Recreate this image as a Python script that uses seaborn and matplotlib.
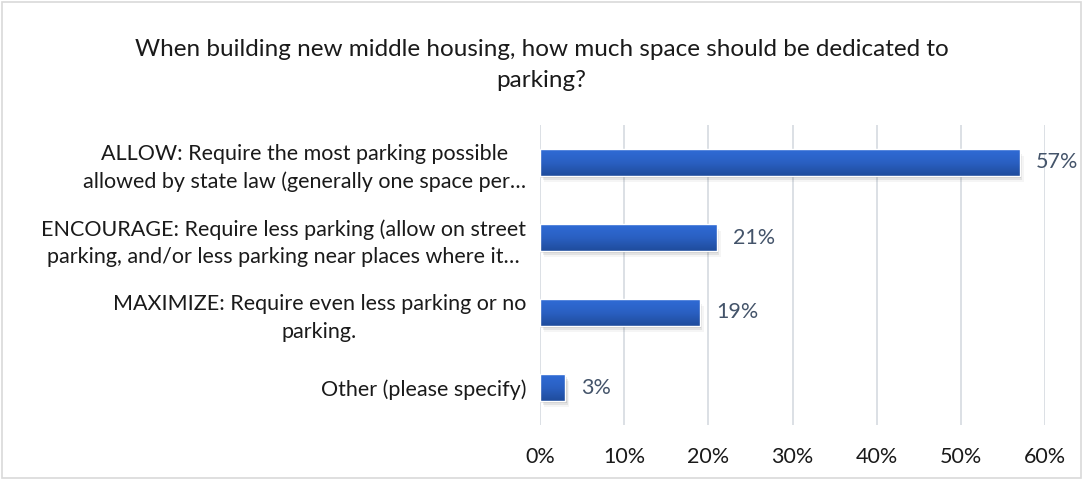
import numpy as np
import pandas as pd
import matplotlib
matplotlib.use("Agg")
import matplotlib.pyplot as plt
from matplotlib.patches import Rectangle
import seaborn as sns

title = "When building new middle housing, how much space should be dedicated to\nparking?"
categories = [
    "ALLOW: Require the most parking possible\nallowed by state law (generally one space per…",
    "ENCOURAGE: Require less parking (allow on street\nparking, and/or less parking near places where it…",
    "MAXIMIZE: Require even less parking or no\nparking.",
    "Other (please specify)",
]
shares = [57, 21, 19, 3]
x_ticks = [0, 10, 20, 30, 40, 50, 60]

df = pd.DataFrame({"category": categories, "share": shares})

sns.set_theme(style="white")
plt.rcParams["font.family"] = ["Lato", "DejaVu Sans"]

fig = plt.figure(figsize=(10.83, 4.8), dpi=100)
ax = fig.add_axes([540 / 1083, 1 - 425 / 480, (1045 - 540) / 1083, 300 / 480])

sns.barplot(data=df, x="share", y="category", orient="h", ax=ax,
            color="#2A62C8", width=0.35, saturation=1)

# vertical gradient fill plus a soft drop shadow on each bar
grad = np.linspace(0, 1, 64).reshape(-1, 1)
cmap = matplotlib.colors.LinearSegmentedColormap.from_list(
    "barfill", ["#2F6BD6", "#2A60C2", "#1F4C9C"])
for p in list(ax.patches):
    x0, y0 = p.get_x(), p.get_y()
    w, h = p.get_width(), p.get_height()
    for k, a in enumerate([0.10, 0.07, 0.04]):
        ax.add_patch(Rectangle((x0 + 0.15 * (k + 1), y0 + 0.03 * (k + 1)), w, h,
                               facecolor="#000000", alpha=a, edgecolor="none",
                               zorder=1.5))
    im = ax.imshow(grad, extent=(x0, x0 + w, y0 + h, y0), aspect="auto",
                   cmap=cmap, zorder=2.5, interpolation="bicubic")
    im.set_clip_path(p)
    p.set_facecolor("none")
    p.set_zorder(3)

for i, v in enumerate(shares):
    ax.annotate(f"{v}%", xy=(v, i), xytext=(11.5, 0), textcoords="offset points",
                va="center", ha="left", fontsize=15.5, color="#44546A")

ax.set_xlim(0, 60)
ax.set_ylim(3.5, -0.5)
ax.set_xticks(x_ticks)
ax.set_xticklabels([f"{t}%" for t in x_ticks], fontsize=15.5, color="#1a1a1a")
ax.tick_params(axis="x", length=0, pad=16)
ax.tick_params(axis="y", length=0, pad=10)
for lbl in ax.get_yticklabels():
    lbl.set_fontsize(15.5)
    lbl.set_color("#1a1a1a")
    lbl.set_horizontalalignment("right")
    lbl.set_multialignment("center")
    lbl.set_linespacing(1.45)
ax.set_xlabel("")
ax.set_ylabel("")
ax.grid(axis="x", color="#D9DDE3", linewidth=1.3)
ax.set_axisbelow(True)
for s in ax.spines.values():
    s.set_visible(False)

fig.text(0.5, 1 - 65 / 480, title, ha="center", va="center", fontsize=17.5,
         color="#1a1a1a", linespacing=1.6)

fig.patches.append(Rectangle((2 / 1083, 2 / 480), 1 - 4 / 1083, 1 - 4 / 480,
                             transform=fig.transFigure, fill=False,
                             edgecolor="#D9D9D9", linewidth=1.2))

fig.savefig("out.png", dpi=100)
